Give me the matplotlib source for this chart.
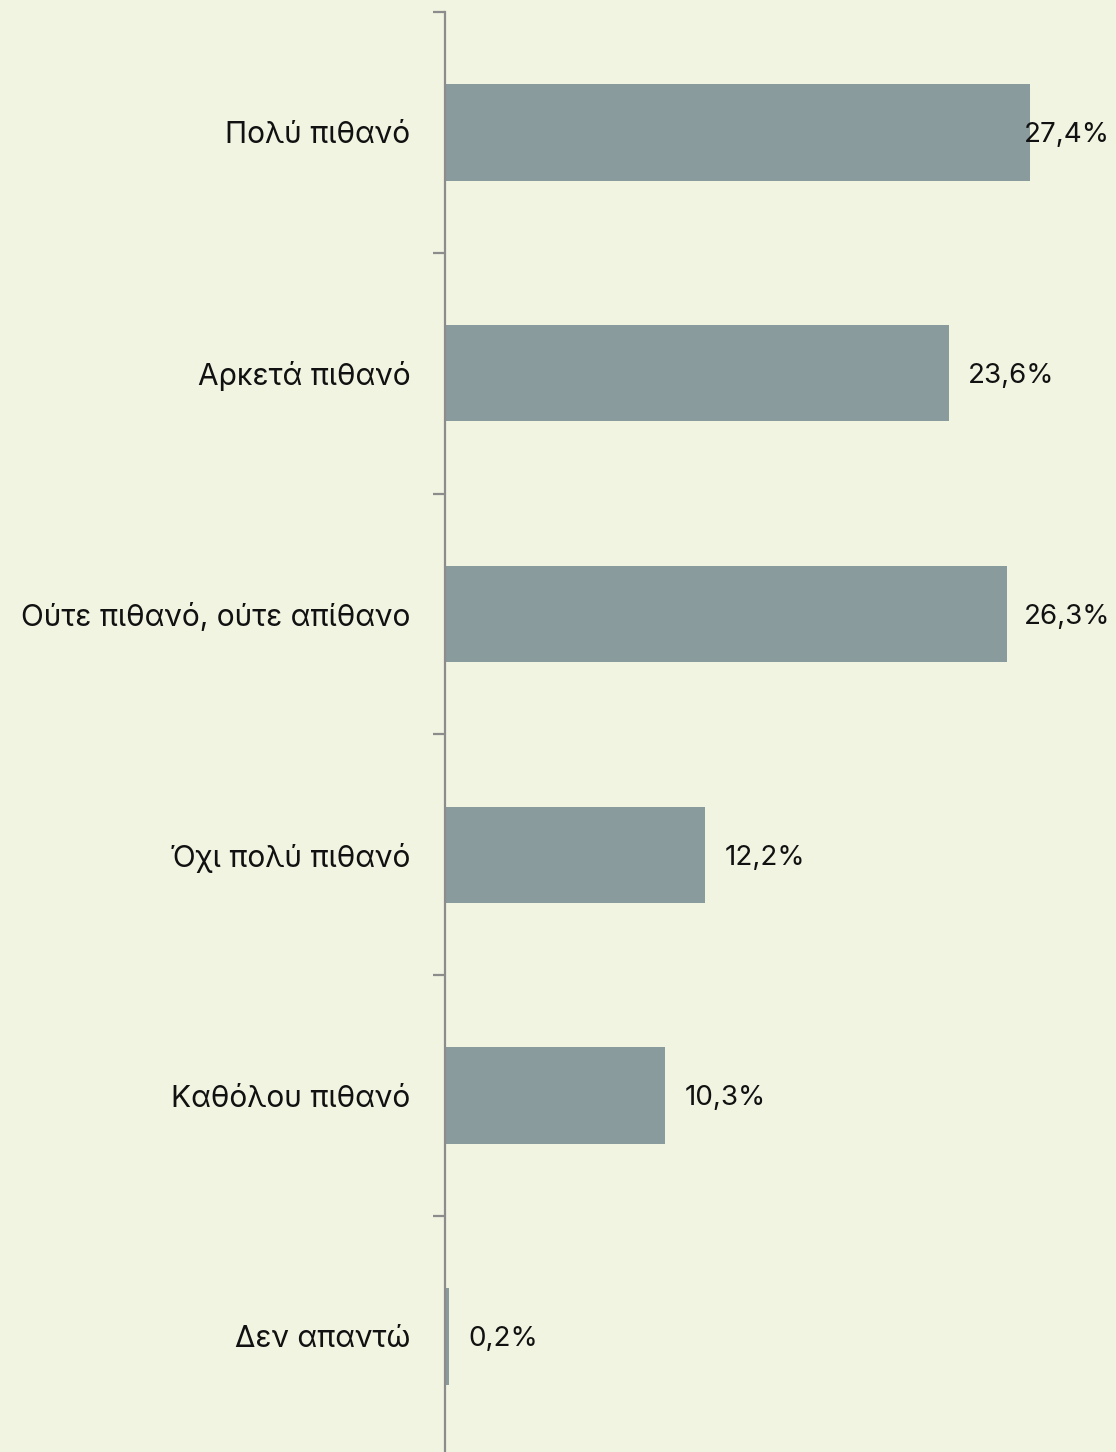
import matplotlib
matplotlib.use("Agg")
import matplotlib.pyplot as plt
from matplotlib.ticker import FixedLocator

categories = ["Πολύ πιθανό", "Αρκετά πιθανό", "Ούτε πιθανό, ούτε απίθανο",
              "Όχι πολύ πιθανό", "Καθόλου πιθανό", "Δεν απαντώ"]
values = [27.4, 23.6, 26.3, 12.2, 10.3, 0.2]
value_labels = ["27,4%", "23,6%", "26,3%", "12,2%", "10,3%", "0,2%"]

BG = "#F1F4E1"
BAR = "#899B9C"
AX = "#8C8C8C"

plt.rcParams['font.family'] = ['Inter', 'DejaVu Sans']

W, H = 1116, 1452
fig = plt.figure(figsize=(W / 100, H / 100), dpi=100)
fig.patch.set_facecolor(BG)
top_px, pitch = 12, 240.8
n = len(categories)
ax_h = n * pitch
ax = fig.add_axes([445 / W, (H - top_px - ax_h) / H, 1 - 445 / W, ax_h / H])
ax.set_facecolor(BG)

y = list(range(n))
ax.barh(y, values, height=0.4, color=BAR)
ax.set_ylim(n - 0.5, -0.5)
ax.set_xlim(0, (W - 445) / 21.35)

for s in ["top", "right", "bottom"]:
    ax.spines[s].set_visible(False)
ax.spines["left"].set_color(AX)
ax.spines["left"].set_linewidth(1.6)
ax.set_xticks([])

ax.set_yticks(y)
ax.set_yticklabels(categories, fontsize=21.5, color="#111111")
ax.tick_params(axis="y", which="major", length=0, pad=25)
ax.yaxis.set_minor_locator(FixedLocator([i - 0.5 for i in range(n + 1)]))
ax.tick_params(axis="y", which="minor", length=9, width=1.6, color=AX)

fig.canvas.draw()
renderer = fig.canvas.get_renderer()
for yi, v, lab in zip(y, values, value_labels):
    t = ax.annotate(lab, xy=(v, yi), xytext=(14, -2), textcoords="offset points",
                    ha="left", va="center", fontsize=20, color="#111111")
    bb = t.get_window_extent(renderer)
    if bb.x1 > W - 6:
        t.set_position((14 - (bb.x1 - (W - 6)) * 72 / 100, -2))

fig.savefig("out.png", dpi=100, facecolor=BG)
